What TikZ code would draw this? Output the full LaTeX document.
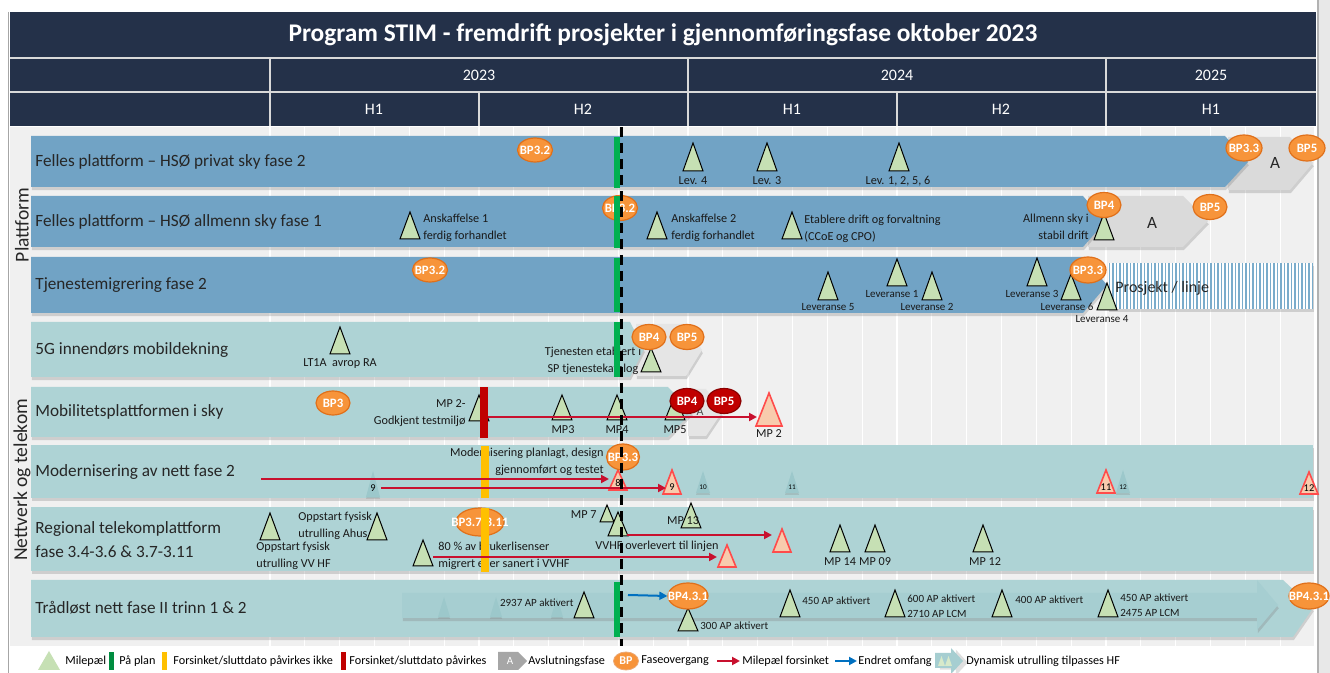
\documentclass[tikz,border=0pt]{standalone}
\usepackage{fontspec}
\setmainfont{Carlito}
\usetikzlibrary{shapes.geometric,arrows.meta,shadows}
\definecolor{navy}{HTML}{243149}
\definecolor{bgray}{HTML}{F0F0F0}
\definecolor{pblue}{HTML}{71A3C5}
\definecolor{pteal}{HTML}{AED3D5}
\definecolor{tarrow}{HTML}{A6CED1}
\definecolor{tdark}{HTML}{9CC8CB}
\definecolor{msfill}{HTML}{C6E0B4}
\definecolor{salm}{HTML}{F8CBAD}
\definecolor{salmline}{HTML}{FF4B4B}
\definecolor{bpfill}{HTML}{F7943A}
\definecolor{bpline}{HTML}{E0701A}
\definecolor{darkred}{HTML}{C00000}
\definecolor{bpred2}{HTML}{8B0000}
\definecolor{gplan}{HTML}{00B050}
\definecolor{yel}{HTML}{FFC000}
\definecolor{grayA}{HTML}{DADADA}
\definecolor{grayL}{HTML}{A6A6A6}
\definecolor{arrblue}{HTML}{0070C0}
\definecolor{delayred}{HTML}{C8102E}
\definecolor{stripe}{HTML}{7AACCB}
\newcommand\mstone[6][msg]{\path[#1] ({#3-#6},#5) -- (#3,#4) -- ({#3+#6},#5) -- cycle; \coordinate (#2) at (#3,#5);}
\newcommand\bpn[7][bp]{\node[#1, minimum width=#5, minimum height=#6] (#2) at (#3,#4) {}; \node[bptext] (#2t) at (#2.center) {#7};}
\begin{document}
\begin{tikzpicture}[x=0.5pt,y=-0.5pt,
 msg/.style={fill=msfill, draw=black, line width=0.5pt, line join=miter},
 mss/.style={fill=salm, draw=salmline, line width=0.8pt},
 mst/.style={fill=tdark, drop shadow={opacity=0.25, shadow xshift=0pt, shadow yshift=-1pt}},
 bp/.style={ellipse, fill=bpfill, draw=bpline, line width=0.6pt, inner sep=0},
 bpr/.style={ellipse, fill=darkred, draw=bpred2, line width=0.6pt, inner sep=0},
 bptext/.style={text=white, font=\bfseries\fontsize{6.4}{7}\selectfont, inner sep=0},
 rowlbl/.style={anchor=west, font=\fontsize{8.6}{12}\selectfont, inner sep=0, text=black!85, align=left},
 lbl/.style={font=\fontsize{6.1}{8.5}\selectfont, inner sep=0, text=black!90},
 slbl/.style={font=\fontsize{5.5}{7.5}\selectfont, inner sep=0, text=black!90},
 num/.style={font=\fontsize{5.2}{6}\selectfont, inner sep=0},
 tnum/.style={font=\fontsize{3.6}{4}\selectfont, inner sep=0},
 barsh/.style={drop shadow={opacity=0.3, shadow xshift=0.4pt, shadow yshift=-1.6pt}},
 delay/.style={draw=delayred, line width=1pt, -{Triangle[length=4pt,width=4pt]}},
 chg/.style={draw=arrblue, line width=1pt, -{Triangle[length=4pt,width=4pt]}},
 hdr/.style={text=white, font=\fontsize{8}{9}\selectfont},
 leg/.style={anchor=west, font=\fontsize{6.1}{7}\selectfont, inner sep=0},
 grp/.style={rotate=90, font=\fontsize{9.8}{11}\selectfont, text=black!85, inner sep=0}]
\useasboundingbox (0,0) rectangle (1330,673);
\fill[white] (0,0) rectangle (1330,673);
% background
\fill[bgray] (10,127) rectangle (1316,646);
\foreach \k in {0,...,30} \draw[white, line width=0.6pt] ({270+\k*34.833},127) -- ({270+\k*34.833},646);
\fill[black!9] (1318,0) rectangle (1330,673);
\draw[black!30, line width=0.6pt] (1318,0) -- (1318,673);
\draw[black!35, line width=0.5pt] (8,12) -- (8,673);
% header
\fill[navy] (10,12) rectangle (1316,126);
\draw[white!85!black, line width=1pt] (10,58) -- (1316,58) (10,92) -- (1316,92);
\foreach \xx in {270,688,1106} \draw[white!85!black, line width=1pt] (\xx,58) -- (\xx,126);
\foreach \xx in {479,897} \draw[white!85!black, line width=1pt] (\xx,92) -- (\xx,126);
\node[text=white, font=\bfseries\fontsize{12.7}{14}\selectfont] (title) at (663,35) {Program STIM - fremdrift prosjekter i gjennomføringsfase oktober 2023};
\node[hdr] (y23) at (479,75) {2023};
\node[hdr] (y24) at (897,75) {2024};
\node[hdr] (y25) at (1211,75) {2025};
\node[hdr] (h1a) at (374,109) {H1};
\node[hdr] (h2a) at (583,109) {H2};
\node[hdr] (h1b) at (792,109) {H1};
\node[hdr] (h2b) at (1001,109) {H2};
\node[hdr] (h1c) at (1211,109) {H1};
% group labels
\node[grp] (gplat) at (22,225) {Plattform};
\node[grp] (gnet) at (22,480) {Nettverk og telekom};
% ---------- bars ----------
\fill[grayA, barsh] (1228,137) -- (1290,137) -- (1313,163) -- (1290,190) -- (1228,190) -- cycle;
\fill[pblue, barsh] (31,136) -- (1225,136) -- (1248,162) -- (1225,187) -- (31,187) -- cycle;
\fill[grayA, barsh] (1088,196) -- (1183,196) -- (1208,221) -- (1183,247) -- (1088,247) -- cycle;
\fill[pblue, barsh] (31,196) -- (1083,196) -- (1105,222) -- (1083,247) -- (31,247) -- cycle;
\fill[pblue, barsh] (31,257) -- (1083,257) -- (1107,285) -- (1083,313) -- (31,313) -- cycle;
\fill[white, barsh] (1108,263) rectangle (1313,309);
\foreach \k in {0,...,58} \draw[stripe, line width=0.9pt] ({1109.5+\k*3.5},263) -- ({1109.5+\k*3.5},309);
\fill[grayA!70, barsh] (636,324) -- (686,324) -- (702,350) -- (686,376) -- (636,376) -- cycle;
\fill[pteal, barsh] (31,322) -- (630,322) -- (644,349) -- (630,377) -- (31,377) -- cycle;
\fill[grayA!70, barsh] (688,389) -- (706,389) -- (722,412) -- (706,436) -- (688,436) -- cycle;
\fill[pteal, barsh] (31,387) -- (668,387) -- (692,412) -- (668,437) -- (31,437) -- cycle;
\fill[pteal, barsh] (31,445) rectangle (1313,498);
\fill[pteal, barsh] (31,507) rectangle (1313,571);
\fill[pteal, barsh] (31,580) -- (1283,580) -- (1313,608) -- (1293,637) -- (31,637) -- cycle;
\fill[tarrow, barsh] (402,593) -- (1257,593) -- (1257,580) -- (1278,605) -- (1257,630) -- (1257,618) -- (402,618) -- cycle;
% row labels
\node[rowlbl] (r1) at (35,162) {Felles plattform – HSØ privat sky fase 2};
\node[rowlbl] (r2) at (35,222) {Felles plattform – HSØ allmenn sky fase 1};
\node[rowlbl] (r3) at (35,285) {Tjenestemigrering fase 2};
\node[rowlbl] (r4) at (35,350) {5G innendørs mobildekning};
\node[rowlbl] (r5) at (35,412) {Mobilitetsplattformen i sky};
\node[rowlbl] (r6) at (35,472) {Modernisering av nett fase 2};
\node[rowlbl] (r7) at (35,540) {Regional telekomplattform\\fase 3.4-3.6 \& 3.7-3.11};
\node[rowlbl] (r8) at (35,608) {Trådløst nett fase II trinn 1 \& 2};
\node[font=\fontsize{8.6}{10}\selectfont, text=black!85] (a1) at (1275,163) {A};
\node[font=\fontsize{8.6}{10}\selectfont, text=black!85] (a2) at (1152,223) {A};
\node[font=\fontsize{6}{7}\selectfont, text=black!70] (a5) at (700,412) {A};
\node[anchor=west, font=\fontsize{8}{10}\selectfont, text=black!85, inner sep=0] (pl) at (1115,288) {Prosjekt / linje};
% ---------- row 1 ----------
\mstone{lev4}{693}{143}{171}{10}
\mstone{lev3}{767}{143}{171}{10}
\mstone{lev1}{899}{143}{171}{10}
\node[lbl] (lev4l) at (693,181) {Lev. 4};
\node[lbl] (lev3l) at (767,181) {Lev. 3};
\node[lbl] (lev1l) at (898,181) {Lev. 1, 2, 5, 6};
% ---------- row 2 ----------
\mstone{ansk1}{410}{212}{239}{10}
\mstone{ansk2}{657}{212}{239}{10}
\mstone{etab}{792}{212}{239}{10}
\mstone{allm}{1104}{213}{240}{10}
\node[lbl, anchor=west, align=left] (ansk1l) at (423,228) {Anskaffelse 1\\ferdig forhandlet};
\node[lbl, anchor=west, align=left] (ansk2l) at (671,228) {Anskaffelse 2\\ferdig forhandlet};
\node[lbl, anchor=west, align=left] (etabl) at (804,229) {Etablere drift og forvaltning\\(CCoE og CPO)};
\node[lbl, anchor=east, align=right] (allml) at (1089,227) {Allmenn sky i\\stabil drift};
% ---------- row 3 ----------
\mstone{lv5}{828}{272}{300}{10}
\mstone{lv1}{897}{259}{286}{10}
\mstone{lv2}{932}{272}{300}{10}
\mstone{lv3}{1037}{258}{286}{10}
\mstone{lv6}{1071}{274}{300}{10}
\mstone{lv4}{1107}{283}{310}{10}
\node[slbl] (lv5l) at (828,307) {Leveranse 5};
\node[slbl] (lv1l) at (892,294) {Leveranse 1};
\node[slbl] (lv2l) at (927,307) {Leveranse 2};
\node[slbl] (lv3l) at (1032,294) {Leveranse 3};
\node[slbl] (lv6l) at (1067,307) {Leveranse 6};
\node[slbl] (lv4l) at (1102,319) {Leveranse 4};
% ---------- row 4 ----------
\mstone{lt1a}{340}{327}{354}{10}
\mstone{tjen}{651}{348}{372}{10}
\node[lbl] (lt1al) at (340,364) {LT1A\ \ avrop RA};
\node[lbl, align=center] (tjenl) at (593,361) {Tjenesten etablert i\\SP tjenestekatalog};
% ---------- row 5 ----------
\mstone{mp2}{479}{395}{421}{10}
\mstone{mp3}{562}{395}{420}{10}
\mstone{mp4}{617}{395}{420}{10}
\mstone{mp5}{675}{395}{420}{10}
\mstone[mss]{mp2late}{769}{393}{426}{13}
\node[lbl, anchor=east, align=right] (mp2l) at (466,413) {MP 2-\\Godkjent testmiljø};
\node[lbl] (mp3l) at (563,430) {MP3};
\node[lbl] (mp4l) at (617,430) {MP4};
\node[lbl] (mp5l) at (675,430) {MP5};
\node[lbl] (mp2latel) at (769,434) {MP 2};
% ---------- row 6 ----------
\mstone[mst]{t9}{373}{471}{497}{7}
\mstone[mss]{s8}{618}{470}{490}{9}
\mstone[mss]{s9}{672}{470}{494}{9}
\mstone[mst]{t10}{703}{471}{493}{7}
\mstone[mst]{t11}{792}{471}{493}{7}
\mstone[mss]{s11}{1106}{470}{493}{9}
\mstone[mst]{t12}{1123}{470}{493}{7}
\mstone[mss]{s12}{1309}{472}{494}{9}
\node[num] (t9l) at (373,488) {9};
\node[num] (s8l) at (618,483) {8};
\node[num] (s9l) at (672,487) {9};
\node[tnum] (t10l) at (703,487) {10};
\node[tnum] (t11l) at (792,487) {11};
\node[num] (s11l) at (1106,487) {11};
\node[tnum] (t12l) at (1123,487) {12};
\node[num] (s12l) at (1309,488) {12};
\node[lbl, anchor=east, align=right] (model) at (604,462) {Modernisering planlagt, design\\gjennomført og testet};
% ---------- row 7 ----------
\mstone{vvhf}{270}{513}{540}{10}
\mstone{ahus}{377}{513}{540}{10}
\mstone{lis}{423}{540}{566}{10}
\mstone{mp7}{607}{505}{522}{7}
\mstone{vv}{618}{512}{536}{10}
\mstone{mp13}{691}{503}{528}{10}
\mstone[mss]{slis}{727}{545}{567}{9}
\mstone[mss]{svv}{782}{529}{552}{9}
\mstone{mp14}{840}{525}{552}{10}
\mstone{mp09}{875}{525}{552}{10}
\mstone{mp12}{983}{525}{552}{10}
\node[lbl, anchor=west, align=left] (vvhfl) at (256,556) {Oppstart fysisk\\utrulling VV HF};
\node[lbl, anchor=west, align=left] (ahusl) at (298,526) {Oppstart fysisk\\utrulling Ahus};
\node[lbl, anchor=west, align=left] (lisl) at (438,556) {80 \% av brukerlisenser\\migrert eller sanert i VVHF};
\node[lbl, anchor=east] (mp7l) at (597,515) {MP 7};
\node[lbl] (vvl) at (657,546) {VVHF overlevert til linjen};
\node[lbl] (mp13l) at (683,521) {MP 13};
\node[lbl] (mp14l) at (840,562) {MP 14};
\node[lbl] (mp09l) at (875,562) {MP 09};
\node[lbl] (mp12l) at (985,562) {MP 12};
% ---------- row 8 ----------
\mstone[mst]{tf1}{444}{597}{617}{6}
\mstone[mst]{tf2}{496}{597}{617}{6}
\mstone[mst]{tf3}{557}{597}{617}{6}
\mstone{ap2937}{584}{592}{618}{10}
\mstone{ap300}{688}{608}{631}{10}
\mstone{ap450}{790}{590}{617}{10}
\mstone{ap600}{895}{590}{617}{10}
\mstone{ap400}{1002}{590}{617}{10}
\mstone{ap450b}{1108}{590}{617}{10}
\node[slbl, anchor=east] (ap2937l) at (574,603) {2937 AP aktivert};
\node[slbl, anchor=west] (ap300l) at (700,626) {300 AP aktivert};
\node[slbl, anchor=west] (ap450l) at (802,601) {450 AP aktivert};
\node[slbl, anchor=west, align=left] (ap600l) at (907,606) {600 AP aktivert\\2710 AP LCM};
\node[slbl, anchor=west] (ap400l) at (1015,600) {400 AP aktivert};
\node[slbl, anchor=west, align=left] (ap450bl) at (1120,605) {450 AP aktivert\\2475 AP LCM};
% ---------- BP ellipses ----------
\bpn{bp1a}{535}{150}{17.5pt}{12pt}{BP3.2}
\bpn{bp1b}{1244}{148}{18pt}{13pt}{BP3.3}
\bpn{bp1c}{1307}{148}{18pt}{13pt}{BP5}
\bpn{bp2a}{620}{208}{17.5pt}{12.5pt}{BP3.2}
\bpn{bp2b}{1104}{205}{17pt}{12.5pt}{BP4}
\bpn{bp2c}{1210}{207}{17pt}{12.5pt}{BP5}
\bpn{bp3a}{430}{270}{17.5pt}{12pt}{BP3.2}
\bpn{bp3b}{1088}{270}{18pt}{13pt}{BP3.3}
\bpn{bp4a}{649}{337}{17pt}{12.5pt}{BP4}
\bpn{bp4b}{687}{337}{17pt}{12.5pt}{BP5}
\bpn{bp5a}{333}{403}{17pt}{12pt}{BP3}
\bpn[bpr]{bp5b}{687}{401}{17pt}{12.5pt}{BP4}
\bpn[bpr]{bp5c}{724}{401}{17pt}{12.5pt}{BP5}
\bpn{bp6}{623}{457}{16.5pt}{13pt}{BP3.3}
\bpn{bp7}{480}{522}{24pt}{14pt}{BP3.7-3.11}
\bpn{bp8a}{688}{596}{20pt}{13pt}{BP4.3.1}
\bpn{bp8b}{1309}{596}{20pt}{13pt}{BP4.3.1}
% ---------- status bars ----------
\fill[gplan] (614,137) rectangle (620,188);
\fill[gplan] (614,196) rectangle (620,248);
\fill[gplan] (614,258) rectangle (620,312);
\fill[gplan] (614,322) rectangle (620,377);
\fill[gplan] (614,582) rectangle (620,637);
\node[fill=darkred, minimum width=4pt, minimum height=25.5pt, inner sep=0] (redbar) at (484,412.5) {};
\node[fill=yel, minimum width=4pt, minimum height=26pt, inner sep=0] (yb6) at (485,472) {};
\node[fill=yel, minimum width=4pt, minimum height=32pt, inner sep=0] (yb7) at (485,540) {};
% ---------- connectors ----------
\coordinate (mpe) at (757,417);
\draw[delay] (redbar.east |- mpe) -- (mpe);
\coordinate (d1s) at (261,479);
\coordinate (d1e) at (609,479);
\draw[delay] (d1s) -- (d1e);
\coordinate (d2s) at (381,488);
\coordinate (d2e) at (666,488);
\draw[delay] (d2s) -- (d2e);
\coordinate (d3s) at (433,557);
\coordinate (d3e) at (717,557);
\draw[delay] (d3s) -- (d3e);
\coordinate (d4s) at (627,535);
\coordinate (d4e) at (772,535);
\draw[delay] (d4s) -- (d4e);
\coordinate (c1s) at (628,595);
\draw[chg] (c1s) -- (bp8a.west);
% today line
\coordinate (today1) at (621,127);
\coordinate (today2) at (621,646);
\draw[black, line width=1.5pt, dash pattern=on 5pt off 3pt] (today1) -- (today2);
% ---------- legend ----------
\fill[white] (31,647) rectangle (1285,673);
\fill[msfill] (38,670) -- (49,651) -- (60,670) -- cycle;
\node[leg] (lg1) at (65,661) {Milepæl};
\fill[gplan!80!black] (109,652) rectangle (114,670);
\node[leg] (lg2) at (119,661) {På plan};
\fill[yel] (162,652) rectangle (167,670);
\node[leg] (lg3) at (173,661) {Forsinket/sluttdato påvirkes ikke};
\fill[darkred] (341,652) rectangle (346,670);
\node[leg] (lg4) at (349,661) {Forsinket/sluttdato påvirkes};
\fill[grayL] (498,652) -- (518,652) -- (527,661) -- (518,670) -- (498,670) -- cycle;
\node[font=\fontsize{5.5}{6}\selectfont, text=white, inner sep=0] (lgA) at (510,661) {A};
\node[leg] (lg5) at (528,661) {Avslutningsfase};
\node[ellipse, fill=bpfill, draw=bpline!60, line width=0.4pt, minimum width=12.5pt, minimum height=9pt, inner sep=0] (lgbp) at (626,661) {};
\node[text=white, font=\bfseries\fontsize{6}{7}\selectfont, inner sep=0] (lgbpt) at (626,661) {BP};
\node[leg] (lg6) at (641,661) {Faseovergang};
\coordinate (lra) at (717,661);
\coordinate (lrb) at (740,661);
\draw[delay] (lra) -- (lrb);
\node[leg] (lg7) at (742,661) {Milepæl forsinket};
\coordinate (lba) at (835,661);
\coordinate (lbb) at (857,661);
\draw[chg] (lba) -- (lbb);
\node[leg] (lg8) at (858,661) {Endret omfang};
\fill[tarrow, drop shadow={opacity=0.25, shadow yshift=-0.8pt}] (935,653) -- (951,653) -- (951,648) -- (963,661) -- (951,674) -- (951,668) -- (935,668) -- cycle;
\fill[msfill!70] (938,666) -- (941.5,656) -- (945,666) -- cycle;
\fill[msfill!70] (945,666) -- (948.5,656) -- (952,666) -- cycle;
\node[leg] (lg9) at (966,661) {Dynamisk utrulling tilpasses HF};
\end{tikzpicture}
\end{document}
